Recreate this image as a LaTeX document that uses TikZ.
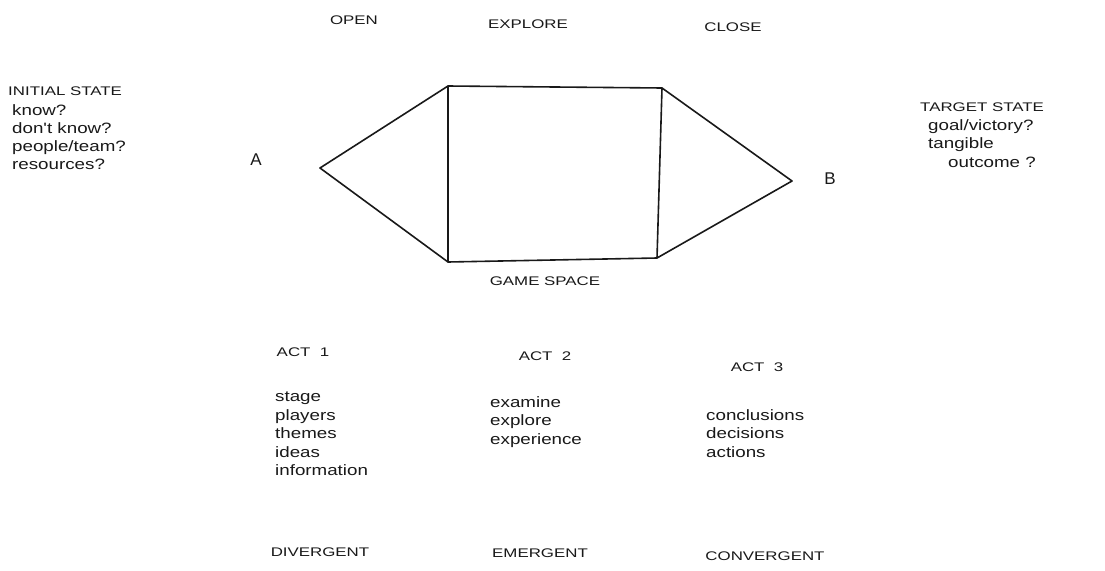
\documentclass[tikz,border=0pt]{standalone}
\usepackage{fontspec}
\setmainfont{Liberation Sans}
\newfontfamily\hwcaps[FakeStretch=1.35]{Liberation Sans}
\newfontfamily\hwlow[FakeStretch=1.25]{Liberation Sans}
\tikzset{
  lbl/.style={inner sep=0pt, font=\hwcaps\fontsize{12.5}{14}\selectfont, text=black!90},
  lst/.style={inner sep=0pt, anchor=north west, align=left, font=\hwlow\fontsize{15}{18.5}\selectfont, text=black!90},
  edge/.style={draw=black!90, line width=1.6pt, line join=round}
}
\begin{document}
\begin{tikzpicture}[x=1pt,y=-1pt]
\useasboundingbox (0,0) rectangle (1105,570);
\fill[white] (0,0) rectangle (1105,570);
% shape corners
\coordinate (pa) at (320,168);
\coordinate (tl) at (448,86);
\coordinate (tr) at (662,88);
\coordinate (br) at (657,258);
\coordinate (bl) at (448,262);
\coordinate (pb) at (792,181);
\draw[edge] (tl) -- (pa) -- (bl);
\draw[edge] (tl) -- (tr) -- (br) -- (bl) -- cycle;
\draw[edge] (tr) -- (pb) -- (br);
% top labels
\node[lbl] (open) at (354,20) {OPEN};
\node[lbl] (explore) at (528,24) {EXPLORE};
\node[lbl] (close) at (733,27) {CLOSE};
\node[lbl] (game) at (545,281) {GAME SPACE};
% A, B
\node[lbl, font=\fontsize{17}{17}\selectfont] (a) at (256,160) {A};
\node[lbl, font=\fontsize{17}{17}\selectfont] (b) at (830,179) {B};
% initial state
\node[lbl, anchor=west] (init) at (8,91) {INITIAL STATE};
\node[lst, font=\hwlow\fontsize{15}{18}\selectfont] (initl) at (12,104) {know?\\don't know?\\people/team?\\resources?};
% target state
\node[lbl, anchor=west] (target) at (920,107) {TARGET STATE};
\node[lst] (targl) at (928,119) {goal/victory?\\tangible\\\hspace*{20pt}outcome ?};
% acts
\node[lbl] (act1) at (303,352) {ACT\ \ 1};
\node[lbl] (act2) at (545,356) {ACT\ \ 2};
\node[lbl] (act3) at (757,367) {ACT\ \ 3};
\node[lst] (act1l) at (275,392) {stage\\players\\themes\\ideas\\information};
\node[lst] (act2l) at (490,396) {examine\\explore\\experience};
\node[lst] (act3l) at (706,409) {conclusions\\decisions\\actions};
% bottom
\node[lbl] (div) at (320,552) {DIVERGENT};
\node[lbl] (eme) at (540,553) {EMERGENT};
\node[lbl] (con) at (765,556) {CONVERGENT};
\end{tikzpicture}
\end{document}
